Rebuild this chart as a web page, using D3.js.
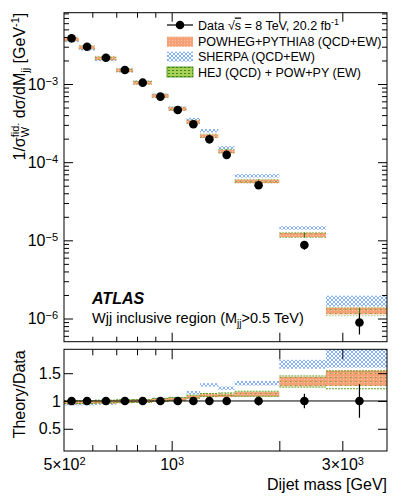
<!DOCTYPE html>
<html><head><meta charset="utf-8">
<script src="https://cdn.jsdelivr.net/npm/d3@7"></script>
<style>body{margin:0;background:#fff}svg{display:block;font-family:"Liberation Sans",Arial,Helvetica,sans-serif}</style>
</head><body><svg id="c" width="407" height="502"></svg>
<script>
// ---------------- data ----------------
const binEdges   = [500,550,610,700,780,880,980,1100,1200,1350,1500,2000,2700,4000];
const binCenters = [525,580,655,740,830,930,1040,1150,1275,1425,1750,2350,3350];
const dataValues = [3.84e-3,3.0e-3,2.17e-3,1.51e-3,1.04e-3,6.9e-4,4.65e-4,3.05e-4,1.96e-4,1.24e-4,5.07e-5,8.7e-6,8.9e-7];
const dataRelErr = [0.02,0.02,0.02,0.02,0.02,0.025,0.03,0.035,0.04,0.06,0.08,0.13,0.30];
// Theory/Data ratios (centre, half-width)
const powhegRatio = [0.97,0.98,0.98,0.99,1.00,1.02,1.03,1.07,1.10,1.10,1.12,1.35,1.41];
const powhegHalf  = [0.03,0.03,0.03,0.03,0.03,0.03,0.03,0.03,0.03,0.03,0.04,0.085,0.14];
const sherpaRatio = [0.94,0.94,0.95,0.98,1.01,1.04,1.05,1.15,1.29,1.23,1.32,1.66,1.90];
const sherpaHalf  = [0.02,0.02,0.02,0.02,0.02,0.02,0.02,0.03,0.03,0.03,0.04,0.08,0.30];
const hejRatio    = [0.98,0.98,0.99,1.00,1.00,1.02,1.04,1.08,1.11,1.12,1.13,1.35,1.38];
const hejHalf     = [0.025,0.025,0.025,0.025,0.025,0.025,0.025,0.025,0.025,0.025,0.045,0.10,0.16];
const yMainMajor  = [1e-6,1e-5,1e-4,1e-3];
const xMajor      = [1000,2000,3000];
const xMinor      = [600,700,800,900];
const xLabelVals  = [500,1000,3000];
const xLabelMant  = ["5×","","3×"];
const xLabelExp   = ["2","3","3"];
const ratioTicks  = [0.5,1,1.5];
const ratioLabels = ["0.5","1","1.5"];
const legendLabels = ["POWHEG+PYTHIA8 (QCD+EW)","SHERPA (QCD+EW)","HEJ (QCD) + POW+PY (EW)"];

// ---------------- layout ----------------
const FONT='"Liberation Sans",Arial,Helvetica,sans-serif';
const L=64, R=387, MT=12.7, MB=341.7, RT=349.3, RB=451;
const svg=d3.select("#c");
const x=d3.scaleLog().domain([500,4000]).range([L,R]);
const yM=d3.scaleLog().domain([5.05e-7,8.17e-3]).range([MB,MT]);
const yR=d3.scaleLinear().domain([0.1,1.93]).range([RB,RT]);

const defs=svg.append("defs");
let p=defs.append("pattern").attr("id","pSherpa").attr("patternUnits","userSpaceOnUse").attr("width",4).attr("height",4);
p.append("path").attr("d","M0,0L4,4M4,0L0,4").attr("stroke","#6a9cf2").attr("stroke-width",0.8);
p=defs.append("pattern").attr("id","pPowheg").attr("patternUnits","userSpaceOnUse").attr("width",3).attr("height",3);
p.append("rect").attr("width",3).attr("height",3).attr("fill","#f6a078");
p.append("rect").attr("x",1).attr("y",1).attr("width",1).attr("height",1).attr("fill","#fbc6a8");
p=defs.append("pattern").attr("id","pHej").attr("patternUnits","userSpaceOnUse").attr("width",5).attr("height",4);
p.append("rect").attr("x",0).attr("y",1).attr("width",1.5).attr("height",1).attr("fill","#5fa51e").attr("opacity",0.8);
p=defs.append("pattern").attr("id","pHejLeg").attr("patternUnits","userSpaceOnUse").attr("width",4).attr("height",3);
p.append("rect").attr("width",4).attr("height",3).attr("fill","#a9d25a");
p.append("rect").attr("x",0).attr("y",1).attr("width",2).attr("height",1).attr("fill","#3d860a");
defs.append("clipPath").attr("id","clipM").append("rect").attr("x",L).attr("y",MT).attr("width",R-L).attr("height",MB-MT);
defs.append("clipPath").attr("id","clipR").append("rect").attr("x",L).attr("y",RT).attr("width",R-L).attr("height",RB-RT);

const models=[
 {r:sherpaRatio,h:sherpaHalf,fill:"url(#pSherpa)",stroke:"none"},
 {r:powhegRatio,h:powhegHalf,fill:"url(#pPowheg)",stroke:"none"},
 {r:hejRatio,h:hejHalf,fill:"url(#pHej)",stroke:"#5a9e1a"}
];

// ---------------- main panel ----------------
const gM=svg.append("g").attr("clip-path","url(#clipM)");
const minH=3.4;
models.forEach(m=>{
  dataValues.forEach((d,i)=>{
    let y1=yM(d*(m.r[i]+m.h[i])), y2=yM(d*(m.r[i]-m.h[i]));
    if(y2-y1<minH){const c=(y1+y2)/2;y1=c-minH/2;y2=c+minH/2;}
    const x0=x(binEdges[i]), x1=x(binEdges[i+1]);
    gM.append("rect").attr("x",x0).attr("y",y1).attr("width",x1-x0).attr("height",y2-y1).attr("fill",m.fill);
    if(m.stroke!=="none"){
      gM.append("path").attr("d",`M${x0},${y1}H${x1}M${x0},${y2}H${x1}`).attr("stroke",m.stroke).attr("stroke-width",0.6).attr("stroke-dasharray","1.5,1.5");
      gM.append("line").attr("x1",x(binCenters[i])).attr("x2",x(binCenters[i])).attr("y1",y1).attr("y2",y2).attr("stroke","#2f6f08").attr("stroke-width",1);
    }
  });
});
dataValues.forEach((d,i)=>{
  gM.append("line").attr("x1",x(binCenters[i])).attr("x2",x(binCenters[i]))
    .attr("y1",yM(d*(1+dataRelErr[i]))).attr("y2",yM(d*(1-dataRelErr[i]))).attr("stroke","#000").attr("stroke-width",1.2);
  gM.append("circle").attr("cx",x(binCenters[i])).attr("cy",yM(d)).attr("r",4.3).attr("fill","#000");
});

// ---------------- ratio panel ----------------
const gR=svg.append("g").attr("clip-path","url(#clipR)");
models.forEach(m=>{
  m.r.forEach((r,i)=>{
    const y1=yR(r+m.h[i]), y2=yR(r-m.h[i]);
    const x0=x(binEdges[i]), x1=x(binEdges[i+1]);
    gR.append("rect").attr("x",x0).attr("y",y1).attr("width",x1-x0).attr("height",y2-y1).attr("fill",m.fill);
    if(m.stroke!=="none"){
      gR.append("path").attr("d",`M${x0},${y1}H${x1}M${x0},${y2}H${x1}`).attr("stroke",m.stroke).attr("stroke-width",1).attr("stroke-dasharray","2,1");
    }
  });
});
gR.append("line").attr("x1",L).attr("x2",R).attr("y1",yR(1)).attr("y2",yR(1)).attr("stroke","#000").attr("stroke-width",1);
dataValues.forEach((d,i)=>{
  gR.append("line").attr("x1",x(binCenters[i])).attr("x2",x(binCenters[i]))
    .attr("y1",yR(1+dataRelErr[i])).attr("y2",yR(1-dataRelErr[i])).attr("stroke","#000").attr("stroke-width",1.2);
  gR.append("circle").attr("cx",x(binCenters[i])).attr("cy",yR(1)).attr("r",4.3).attr("fill","#000");
});

// ---------------- axes ----------------
function clean(g){g.attr("font-family",FONT);g.select(".domain").remove();g.selectAll(".tick line").attr("stroke","#000");return g;}
const minorY=[];
for(let e=-7;e<=-2;e++)for(let k=2;k<=9;k++){const v=k*Math.pow(10,e);if(v>5.05e-7&&v<8.17e-3)minorY.push(v);}
clean(svg.append("g").attr("transform",`translate(${L},0)`).call(d3.axisLeft(yM).tickValues(minorY).tickSize(-5).tickFormat("")));
clean(svg.append("g").attr("transform",`translate(${R},0)`).call(d3.axisRight(yM).tickValues(minorY).tickSize(-5).tickFormat("")));
clean(svg.append("g").attr("transform",`translate(${R},0)`).call(d3.axisRight(yM).tickValues(yMainMajor).tickSize(-9).tickFormat("")));
const gyl=clean(svg.append("g").attr("transform",`translate(${L},0)`).call(d3.axisLeft(yM).tickValues(yMainMajor).tickSize(-9).tickPadding(6)));
gyl.selectAll(".tick text").attr("font-size",16).attr("fill","#000").each(function(d){
  const t=d3.select(this);t.text(null);
  t.append("tspan").text("10");
  t.append("tspan").attr("dy","-0.45em").attr("font-size",11).text("−"+Math.round(-Math.log10(d)));
});
[[MT,"top",5,9],[MB,"bottom",5,9],[RT,"top",6,10],[RB,"bottom",6,10]].forEach(([yy,side,mn,mj])=>{
  const mk=side==="top"?d3.axisTop:d3.axisBottom;
  clean(svg.append("g").attr("transform",`translate(0,${yy})`).call(mk(x).tickValues(xMinor).tickSize(-mn).tickFormat("")));
  clean(svg.append("g").attr("transform",`translate(0,${yy})`).call(mk(x).tickValues(xMajor).tickSize(-mj).tickFormat("")));
});
const gxl=clean(svg.append("g").attr("transform",`translate(0,${RB})`).call(d3.axisBottom(x).tickValues(xLabelVals).tickSize(0).tickPadding(0)));
gxl.selectAll(".tick text").attr("font-size",16).attr("fill","#000").attr("y",19).attr("dy",0).each(function(d,i){
  const t=d3.select(this);t.text(null);
  t.append("tspan").text(xLabelMant[i]+"10");
  t.append("tspan").attr("dy","-0.45em").attr("font-size",11).text(xLabelExp[i]);
});
clean(svg.append("g").attr("transform",`translate(${R},0)`).call(d3.axisRight(yR).tickValues(ratioTicks).tickSize(-9).tickFormat("")));
const gry=clean(svg.append("g").attr("transform",`translate(${L},0)`).call(d3.axisLeft(yR).tickValues(ratioTicks).tickSize(-9).tickPadding(3).tickFormat((d,i)=>ratioLabels[i])));
gry.selectAll(".tick text").attr("font-size",16).attr("fill","#000");

svg.append("rect").attr("x",L).attr("y",MT).attr("width",R-L).attr("height",MB-MT).attr("fill","none").attr("stroke","#000").attr("stroke-width",1);
svg.append("rect").attr("x",L).attr("y",RT).attr("width",R-L).attr("height",RB-RT).attr("fill","none").attr("stroke","#000").attr("stroke-width",1);

// ---------------- titles ----------------
svg.append("text").attr("x",R).attr("y",490).attr("text-anchor","end").attr("font-size",16).text("Dijet mass [GeV]");
svg.append("text").attr("transform",`translate(25,${RT+1}) rotate(-90)`).attr("text-anchor","end").attr("font-size",16).text("Theory/Data");
const yt=svg.append("text").attr("transform",`translate(25,${MT}) rotate(-90)`).attr("text-anchor","end").attr("font-size",16);
yt.append("tspan").text("1/σ");
yt.append("tspan").attr("dy",4).attr("font-size",11).text("W");
yt.append("tspan").attr("dy",-10).attr("dx",-10.4).attr("font-size",11).text("fid.");
yt.append("tspan").attr("dy",6).text(" dσ/dM");
yt.append("tspan").attr("dy",4).attr("font-size",11).text("jj");
yt.append("tspan").attr("dy",-4).text(" [GeV");
yt.append("tspan").attr("dy",-6).attr("font-size",11).text("-1");
yt.append("tspan").attr("dy",6).text("]");

svg.append("text").attr("x",92).attr("y",304).attr("font-size",16).attr("font-weight","bold").attr("font-style","italic").text("ATLAS");
const sub=svg.append("text").attr("x",92).attr("y",323).attr("font-size",14.5);
sub.append("tspan").text("Wjj inclusive region (M");
sub.append("tspan").attr("dy",4).attr("font-size",10).text("jj");
sub.append("tspan").attr("dy",-4).text(">0.5 TeV)");

// ---------------- legend ----------------
const lg=svg.append("g");
const lx0=167, lx1=193, tx=198;
lg.append("line").attr("x1",lx0).attr("x2",lx1).attr("y1",25).attr("y2",25).attr("stroke","#000").attr("stroke-width",1.2);
lg.append("circle").attr("cx",(lx0+lx1)/2).attr("cy",25).attr("r",4.3);
const dt=lg.append("text").attr("x",tx).attr("y",29.5).attr("font-size",12.5);
dt.append("tspan").text("Data ");
dt.append("tspan").text("√");
dt.append("tspan").attr("text-decoration","overline").text("s");
dt.append("tspan").text(" = 8 TeV, 20.2 fb");
dt.append("tspan").attr("dy",-5).attr("font-size",9).text("-1");
const legFills=["url(#pPowheg)","url(#pSherpa)","url(#pHejLeg)"];
const legY=[41.7,56.7,72];
legendLabels.forEach((s,i)=>{
  lg.append("rect").attr("x",lx0).attr("y",legY[i]-5).attr("width",lx1-lx0).attr("height",10).attr("fill",legFills[i]);
  if(i===2) lg.append("rect").attr("x",lx0).attr("y",legY[i]-5).attr("width",lx1-lx0).attr("height",10).attr("fill","none").attr("stroke","#3d860a").attr("stroke-width",0.8);
  lg.append("text").attr("x",tx).attr("y",legY[i]+4.5).attr("font-size",12.5).text(s);
});
</script></body></html>
